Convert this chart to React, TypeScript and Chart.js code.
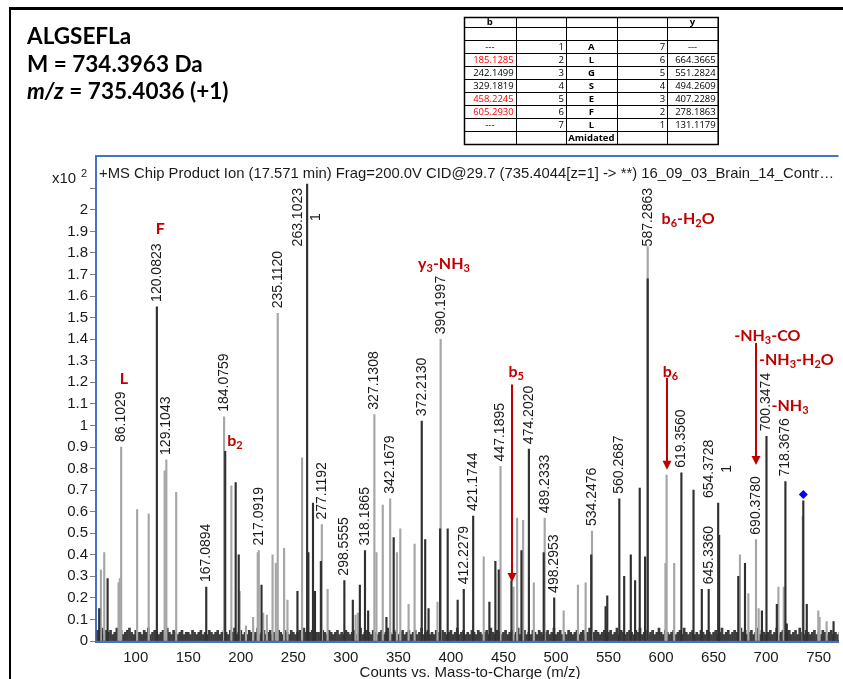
import React, { useEffect, useRef } from 'react';
import { Chart, registerables } from 'chart.js';

Chart.register(...registerables);

// ---------------- data ----------------
const xTickValues = [100, 150, 200, 250, 300, 350, 400, 450, 500, 550, 600, 650, 700, 750];
const yTickValues = [0, 0.1, 0.2, 0.3, 0.4, 0.5, 0.6, 0.7, 0.8, 0.9, 1, 1.1, 1.2, 1.3, 1.4, 1.5, 1.6, 1.7, 1.8, 1.9, 2, 2.1];
const yTickLabels = ['0', '0.1', '0.2', '0.3', '0.4', '0.5', '0.6', '0.7', '0.8', '0.9', '1', '1.1', '1.2', '1.3', '1.4', '1.5', '1.6', '1.7', '1.8', '1.9', '2', ''];

// labelled peaks (m/z, intensity x10^2, trace shade)
const labeledMz = [86.1029, 120.0823, 129.1043, 167.0894, 184.0759, 217.0919, 235.112, 263.1023, 277.1192, 298.5555, 318.1865, 327.1308, 342.1679, 372.213, 390.1997, 412.2279, 421.1744, 447.1895, 474.202, 489.2333, 498.2953, 534.2476, 560.2687, 587.2863, 619.356, 645.336, 654.3728, 690.378, 700.3474, 718.3676];
const labeledH = [0.90, 1.55, 0.84, 0.25, 1.04, 0.42, 1.52, 2.12, 0.54, 0.28, 0.42, 1.05, 0.66, 1.02, 1.40, 0.24, 0.58, 0.81, 0.89, 0.57, 0.20, 0.51, 0.66, 1.83, 0.78, 0.24, 0.64, 0.47, 0.95, 0.74];
const labeledShade = ['g', 'k', 'g', 'k', 'g', 'g', 'g', 'k', 'g', 'k', 'k', 'g', 'g', 'k', 'g', 'k', 'k', 'g', 'k', 'g', 'k', 'g', 'k', 'g', 'k', 'k', 'k', 'g', 'k', 'k'];
const chargeMz = [263.1023, 654.3728];
const chargeText = '1';

// unlabelled peaks
const peakMz = [65.2, 66.8, 70.0, 73.2, 83.6, 84.8, 101.3, 112.3, 127.5, 138.5, 185.13, 191.0, 195.1, 198.0, 198.9, 204.9, 211.7, 216.1, 219.7, 221.3, 224.8, 230.2, 233.3, 241.2, 244.4, 253.9, 258.3, 264.3, 268.7, 270.6, 276.2, 282.6, 306.6, 309.2, 311.4, 313.3, 321.2, 329.1, 335.1, 338.6, 345.5, 348.6, 351.8, 359.7, 365.4, 375.5, 378.7, 387.2, 389.7, 396.9, 406.4, 431.2, 436.6, 442.3, 445.5, 457.6, 459.5, 463.0, 467.1, 468.7, 478.9, 488.3, 507.3, 520.9, 528.2, 533.5, 547.2, 548.8, 564.9, 571.2, 575.3, 579.7, 584.8, 587.29, 604.2, 605.3, 612.5, 630.9, 638.8, 655.3, 673.5, 675.1, 679.9, 683.1, 692.9, 696.0, 710.2, 711.7, 716.8, 719.7, 734.9, 735.4, 738.7, 749.7, 750.9, 757.6, 764.2];
const peakH = [0.15, 0.33, 0.41, 0.29, 0.27, 0.29, 0.61, 0.59, 0.79, 0.69, 0.88, 0.72, 0.735, 0.40, 0.23, 0.07, 0.11, 0.41, 0.26, 0.13, 0.12, 0.40, 0.36, 0.43, 0.19, 0.23, 0.85, 0.41, 0.64, 0.23, 0.37, 0.24, 0.19, 0.12, 0.13, 0.26, 0.14, 0.41, 0.63, 0.11, 0.48, 0.41, 0.52, 0.17, 0.45, 0.47, 0.15, 0.18, 0.52, 0.52, 0.19, 0.39, 0.18, 0.37, 0.33, 0.28, 0.25, 0.57, 0.42, 0.56, 0.27, 0.41, 0.14, 0.26, 0.27, 0.40, 0.16, 0.21, 0.30, 0.40, 0.28, 0.71, 0.39, 1.68, 0.36, 0.77, 0.36, 0.70, 0.24, 0.49, 0.30, 0.40, 0.36, 0.22, 0.15, 0.14, 0.17, 0.25, 0.25, 0.08, 0.58, 0.65, 0.17, 0.14, 0.11, 0.09, 0.09];
const peakShade = ['k', 'g', 'g', 'k', 'g', 'g', 'g', 'g', 'g', 'g', 'k', 'g', 'k', 'k', 'g', 'g', 'g', 'g', 'k', 'g', 'g', 'g', 'g', 'g', 'g', 'k', 'g', 'k', 'k', 'k', 'k', 'g', 'k', 'g', 'g', 'k', 'k', 'g', 'g', 'k', 'k', 'g', 'g', 'g', 'g', 'k', 'k', 'g', 'k', 'k', 'k', 'g', 'k', 'k', 'k', 'k', 'g', 'g', 'k', 'g', 'g', 'k', 'g', 'g', 'g', 'k', 'k', 'k', 'k', 'k', 'k', 'k', 'k', 'k', 'g', 'g', 'g', 'k', 'k', 'k', 'k', 'g', 'k', 'g', 'g', 'k', 'k', 'g', 'g', 'k', 'g', 'k', 'k', 'g', 'g', 'g', 'k'];

// baseline noise, one value every 2 m/z from 64 (in hundredths of the y unit)
const noiseStartMz = 64;
const noiseStepMz = 2;
const noiseH = [
  5, 4, 6, 3, 5, 4, 5, 3, 4, 6, 4, 5, 3, 4, 5, 6, 4, 3, 5, 4, 4, 3, 5, 4, 6, 3, 4, 5, 4, 3,
  4, 5, 3, 6, 4, 3, 5, 4, 3, 4, 5, 3, 4, 4, 3, 5, 4, 3, 4, 5, 3, 4, 3, 5, 4, 3, 4, 5, 3, 4,
  5, 4, 3, 5, 4, 6, 3, 4, 5, 3, 4, 3, 5, 4, 3, 4, 6, 3, 4, 5, 3, 4, 5, 3, 4, 3, 5, 4, 3, 5,
  4, 3, 5, 4, 3, 4, 5, 3, 6, 4, 3, 4, 5, 3, 4, 4, 3, 5, 4, 3, 5, 4, 3, 4, 5, 3, 4, 3, 5, 4,
  3, 4, 5, 3, 4, 6, 3, 4, 5, 4, 3, 5, 4, 3, 4, 5, 3, 4, 6, 4, 3, 5, 4, 3, 4, 5, 3, 4, 5, 3,
  4, 5, 3, 4, 6, 3, 4, 5, 3, 4, 3, 5, 4, 3, 5, 4, 3, 4, 5, 3, 4, 6, 3, 4, 5, 3, 4, 3, 5, 4,
  3, 5, 4, 3, 4, 5, 3, 6, 4, 3, 5, 4, 3, 4, 5, 3, 4, 5, 3, 4, 6, 3, 4, 5, 3, 4, 3, 5, 4, 3,
  5, 4, 3, 4, 5, 3, 4, 6, 3, 4, 5, 3, 4, 3, 5, 4, 3, 4, 5, 3, 4, 5, 3, 4, 6, 3, 4, 5, 4, 3,
  4, 5, 3, 4, 5, 3, 4, 6, 3, 5, 4, 3, 4, 5, 4, 3, 5, 4, 6, 3, 4, 5, 3, 4, 5, 3, 4, 6, 4, 3,
  5, 4, 3, 4, 5, 3, 4, 5, 3, 6, 4, 3, 4, 5, 3, 4, 3, 5, 4, 3, 5, 4, 3, 4, 5, 3, 4, 6, 3, 4,
  5, 3, 4, 5, 4, 3, 6, 4, 5, 3, 4, 5, 3, 4, 6, 3, 5, 4, 3, 4, 5, 3, 4, 6, 3, 4, 5, 3, 4, 5,
  3, 4, 5, 3, 6, 4, 3, 5, 4, 3, 4, 5, 3, 4, 3, 5, 4, 3, 4, 5, 3, 4, 3, 4,
];

const precursorMz = 735.4036;
const precursorMarkerH = 0.68;

// sequence table
const tableB = ['b', '', '---', '185.1285', '242.1499', '329.1819', '458.2245', '605.2930', '---', ''];
const tableBRed = [false, false, false, true, false, false, true, true, false, false];
const tableBIndex = ['', '', '1', '2', '3', '4', '5', '6', '7', ''];
const tableResidue = ['', '', 'A', 'L', 'G', 'S', 'E', 'F', 'L', 'Amidated'];
const tableYIndex = ['', '', '7', '6', '5', '4', '3', '2', '1', ''];
const tableY = ['y', '', '---', '664.3665', '551.2824', '494.2609', '407.2289', '278.1863', '131.1179', ''];

const titleText = '+MS Chip Product Ion (17.571 min) Frag=200.0V CID@29.7 (735.4044[z=1] -> **) 16_09_03_Brain_14_Contr\u2026';
const xTitle = 'Counts vs. Mass-to-Charge (m/z)';
const peptideName = 'ALGSEFLa';
const massLine = 'M = 734.3963 Da';
const mzLineValue = ' = 735.4036 (+1)';

type Seg = { t: string; sub?: boolean };
// annotation anchor in data units (m/z, intensity)
const annotations: { segs: Seg[]; mz: number; h: number }[] = [
  { segs: [{ t: 'L' }], mz: 84.86, h: 1.216 },
  { segs: [{ t: 'F' }], mz: 118.92, h: 1.912 },
  { segs: [{ t: 'b' }, { t: '2', sub: true }], mz: 187.05, h: 0.93 },
  { segs: [{ t: 'y' }, { t: '3', sub: true }, { t: '-NH' }, { t: '3', sub: true }], mz: 368.7, h: 1.749 },
  { segs: [{ t: 'b' }, { t: '5', sub: true }], mz: 454.8, h: 1.25 },
  { segs: [{ t: 'b' }, { t: '6', sub: true }, { t: '-H' }, { t: '2', sub: true }, { t: 'O' }], mz: 600.5, h: 1.958 },
  { segs: [{ t: 'b' }, { t: '6', sub: true }], mz: 601.5, h: 1.25 },
  { segs: [{ t: '-NH' }, { t: '3', sub: true }, { t: '-CO' }], mz: 669.6, h: 1.415 },
  { segs: [{ t: '-NH' }, { t: '3', sub: true }, { t: '-H' }, { t: '2', sub: true }, { t: 'O' }], mz: 693.3, h: 1.304 },
  { segs: [{ t: '-NH' }, { t: '3', sub: true }], mz: 705.2, h: 1.09 },
];
const arrowMz = [458.2245, 605.293, 690.378];
const arrowFromH = [1.19, 1.22, 1.383];
const arrowToH = [0.274, 0.794, 0.817];

// ---------------- drawing helpers ----------------
const SANS = '"Liberation Sans", Arial, sans-serif';
const RED = '#c00000';
const BLUE = '#4472c4';

function drawRich(ctx: CanvasRenderingContext2D, segs: Seg[], x: number, y: number, size: number) {
  let cx = x;
  for (const s of segs) {
    const fs = s.sub ? Math.round(size * 0.68) : size;
    ctx.font = `bold ${fs}px Lato, "Open Sans", sans-serif`;
    ctx.fillText(s.t, cx, s.sub ? y + size * 0.28 : y);
    cx += ctx.measureText(s.t).width;
  }
}

const overlayPlugin = {
  id: 'overlay',
  beforeDraw(chart: any) {
    const ctx = chart.ctx;
    ctx.save();
    ctx.fillStyle = '#ffffff';
    ctx.fillRect(0, 0, chart.width, chart.height);
    ctx.restore();
  },
  afterDraw(chart: any) {
    const ctx: CanvasRenderingContext2D = chart.ctx;
    const ca = chart.chartArea;
    const xs = chart.scales.x;
    const ys = chart.scales.y;
    ctx.save();

    // outer figure border
    ctx.fillStyle = '#000';
    ctx.fillRect(9, 7, chart.width - 9, 3);
    ctx.fillRect(9, 7, 2, chart.height - 7);

    // peptide info
    ctx.fillStyle = '#000';
    ctx.textBaseline = 'alphabetic';
    ctx.textAlign = 'left';
    const hf = 'bold 22.5px Lato, "Open Sans", sans-serif';
    ctx.font = hf;
    ctx.fillText(peptideName, 27, 44);
    ctx.fillText(massLine, 27, 71.5);
    ctx.font = 'italic bold 22.5px Lato, "Open Sans", sans-serif';
    ctx.fillText('m/z', 27, 99);
    const mw = ctx.measureText('m/z').width;
    ctx.font = hf;
    ctx.fillText(mzLineValue, 27 + mw, 99);

    // sequence table
    const cols = [464, 515.7, 566, 616.7, 667.3, 717.7];
    const rows = [17, 27, 40, 53, 66, 79, 92, 105, 118, 131, 144];
    ctx.strokeStyle = '#000';
    ctx.lineWidth = 1;
    ctx.beginPath();
    for (const c of cols) { ctx.moveTo(Math.round(c) + 0.5, rows[0]); ctx.lineTo(Math.round(c) + 0.5, rows[rows.length - 1]); }
    for (const r of rows) { ctx.moveTo(cols[0], r + 0.5); ctx.lineTo(cols[cols.length - 1] + 1, r + 0.5); }
    ctx.stroke();
    ctx.lineWidth = 1.5;
    ctx.strokeRect(cols[0] + 0.5, rows[0] + 0.5, cols[cols.length - 1] - cols[0], rows[rows.length - 1] - rows[0]);
    ctx.textBaseline = 'middle';
    const colData = [tableB, tableBIndex, tableResidue, tableYIndex, tableY];
    for (let r = 0; r < tableB.length; r++) {
      const cy = (rows[r] + rows[r + 1]) / 2 + 0.5;
      for (let c = 0; c < 5; c++) {
        const txt = colData[c][r];
        if (!txt) continue;
        const left = cols[c];
        const right = cols[c + 1];
        const isNum = /^[0-9.]+$/.test(txt);
        const bold = !isNum && txt !== '---';
        ctx.font = `${bold ? 'bold ' : ''}9.5px "Open Sans", sans-serif`;
        ctx.fillStyle = c === 0 && tableBRed[r] ? '#ff0000' : '#000';
        if (isNum) {
          ctx.textAlign = 'right';
          ctx.fillText(txt, right - 2, cy);
        } else {
          ctx.textAlign = 'center';
          ctx.fillText(txt, (left + right) / 2, cy);
        }
      }
    }

    // plot frame top line
    ctx.fillStyle = BLUE;
    ctx.fillRect(ca.left - 1, ca.top - 1, ca.right - ca.left + 1, 2);

    // title inside plot
    ctx.fillStyle = '#1a1a1a';
    ctx.font = `15px ${SANS}`;
    ctx.textAlign = 'left';
    ctx.textBaseline = 'alphabetic';
    ctx.fillText(titleText, ca.left + 3, ca.top + 22, 735);

    // y multiplier
    ctx.font = `15px ${SANS}`;
    ctx.fillText('x10', 52, 183);
    ctx.font = `11px ${SANS}`;
    ctx.fillText('2', 81, 177);

    // x title
    ctx.font = `15px ${SANS}`;
    ctx.textAlign = 'center';
    ctx.fillText(xTitle, 470, 677);

    // peak labels
    ctx.font = `14px ${SANS}`;
    ctx.fillStyle = '#1a1a1a';
    ctx.textBaseline = 'middle';
    labeledMz.forEach((mz, i) => {
      const px = xs.getPixelForValue(mz);
      const top = ys.getPixelForValue(labeledH[i]);
      const text = mz.toFixed(4);
      const w = ctx.measureText(text).width;
      let bottom = top - 5;
      const minTop = ca.top + 32;
      if (bottom - w < minTop) bottom = minTop + w;
      const charged = chargeMz.includes(mz);
      const lx = charged ? px - 9 : px;
      ctx.save();
      ctx.translate(lx, bottom);
      ctx.rotate(-Math.PI / 2);
      ctx.textAlign = 'left';
      ctx.fillText(text, 0, 0);
      ctx.restore();
      if (charged) {
        ctx.save();
        ctx.translate(px + 9, bottom - w / 2);
        ctx.rotate(-Math.PI / 2);
        ctx.textAlign = 'center';
        ctx.fillText(chargeText, 0, 0);
        ctx.restore();
      }
    });

    // red annotations
    ctx.fillStyle = RED;
    ctx.textAlign = 'left';
    ctx.textBaseline = 'middle';
    for (const a of annotations) {
      drawRich(ctx, a.segs, xs.getPixelForValue(a.mz), ys.getPixelForValue(a.h), 16);
    }
    ctx.strokeStyle = RED;
    ctx.lineWidth = 2;
    arrowMz.forEach((mz, i) => {
      const px = Math.round(xs.getPixelForValue(mz));
      const y0 = ys.getPixelForValue(arrowFromH[i]);
      const y1 = ys.getPixelForValue(arrowToH[i]);
      ctx.beginPath();
      ctx.moveTo(px, y0);
      ctx.lineTo(px, y1 - 8);
      ctx.stroke();
      ctx.beginPath();
      ctx.moveTo(px - 4.5, y1 - 9);
      ctx.lineTo(px + 4.5, y1 - 9);
      ctx.lineTo(px, y1);
      ctx.closePath();
      ctx.fill();
    });

    ctx.restore();
  },
};

export default function App() {
  const canvasRef = useRef<HTMLCanvasElement | null>(null);

  useEffect(() => {
    const canvas = canvasRef.current;
    if (!canvas) return;
    Chart.defaults.font.family = SANS;

    const noiseData = noiseH.map((v, i) => ({ x: noiseStartMz + i * noiseStepMz, y: v / 100 }));
    const allMz = [...peakMz, ...labeledMz];
    const allH = [...peakH, ...labeledH];
    const allShade = [...peakShade, ...labeledShade];
    const grayData: { x: number; y: number }[] = [];
    const darkData: { x: number; y: number }[] = [];
    allMz.forEach((mz, i) => {
      (allShade[i] === 'g' ? grayData : darkData).push({ x: mz, y: allH[i] });
    });

    const chart = new Chart(canvas, {
      type: 'bar',
      data: {
        datasets: [
          {
            type: 'line',
            data: [{ x: precursorMz, y: precursorMarkerH }],
            showLine: false,
            pointStyle: 'rectRot',
            pointRadius: 4.5,
            backgroundColor: '#0000ff',
            borderColor: '#0000ff',
            borderWidth: 0,
            order: 1,
          } as any,
          { data: darkData, backgroundColor: '#303030', barThickness: 1.5, order: 2 } as any,
          { data: grayData, backgroundColor: '#a6a6a6', barThickness: 1.5, order: 3 } as any,
          { data: noiseData, backgroundColor: '#3c3c3c', barThickness: 2, order: 4 } as any,
        ],
      },
      options: {
        responsive: false,
        animation: false,
        events: [],
        layout: { padding: { top: 156, left: 0, right: 0, bottom: 0 } },
        plugins: { legend: { display: false }, tooltip: { enabled: false } },
        datasets: { bar: { grouped: false } } as any,
        scales: {
          x: {
            type: 'linear',
            min: 62.15,
            max: 768.9,
            offset: false,
            afterBuildTicks: (s: any) => { s.ticks = xTickValues.map((v) => ({ value: v })); },
            afterFit: (s: any) => { s.height = 38; },
            ticks: { font: { size: 15 }, color: '#1a1a1a', padding: 8, maxRotation: 0, autoSkip: false, callback: (v: any) => String(v) },
            grid: { drawOnChartArea: false, drawTicks: false, offset: false },
            border: { color: BLUE, width: 3 },
          },
          y: {
            type: 'linear',
            min: 0,
            max: 2.25,
            afterBuildTicks: (s: any) => { s.ticks = yTickValues.map((v) => ({ value: v })); },
            afterFit: (s: any) => { s.width = 96; },
            ticks: { font: { size: 15 }, color: '#1a1a1a', padding: 2, autoSkip: false, callback: (_v: any, i: number) => yTickLabels[i] },
            grid: { drawOnChartArea: false, tickLength: 6, color: '#808080' },
            border: { color: BLUE, width: 2 },
          },
        },
      } as any,
      plugins: [overlayPlugin],
    });
    return () => chart.destroy();
  }, []);

  return (
    <div style={{ position: 'absolute', left: 0, top: 0, width: 843, height: 679, overflow: 'hidden', background: '#fff' }}>
      <canvas ref={canvasRef} width={843} height={679} style={{ display: 'block', width: 843, height: 679 }} />
    </div>
  );
}
